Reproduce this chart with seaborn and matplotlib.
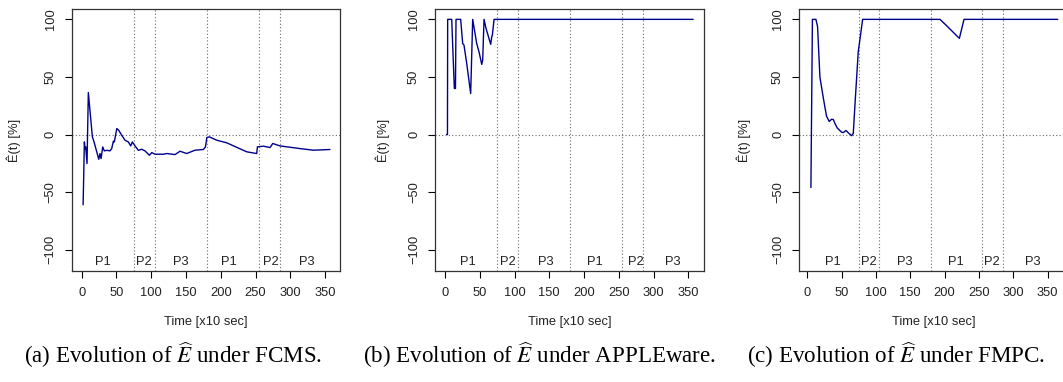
import numpy as np
import pandas as pd
import matplotlib
matplotlib.use("Agg")
import matplotlib.pyplot as plt
import seaborn as sns

# ---------------- data ----------------
x_fcms = [2, 3.8, 4.7, 5.7, 7.6, 9.5, 12.9, 15.3, 17.7, 21.6, 24.5, 26.3, 27.8, 30.2, 32.5, 36,
          40.7, 43.1, 45.5, 46.9, 50.4, 53.2, 57.5, 62.3, 67, 70.5, 72.8, 76.7, 81.4, 86.3, 91,
          97.3, 100.7, 105.5, 117.4, 122.3, 134.2, 141.4, 151, 163, 175, 178, 180, 183.6, 194,
          208.6, 237.3, 251.7, 252.7, 261.3, 270.9, 274.7, 285.3, 314, 333.2, 357]
y_fcms = [-61, -6.4, -12.8, -10.7, -25.2, 36.5, 13.9, -2, -6.4, -15, -21.5, -16.5, -20.9, -10.8,
          -14.2, -13.7, -14.2, -12.2, -5.8, -6.4, 5.2, 3.7, -0.6, -5, -6.4, -9.9, -6.4, -9.9,
          -13.7, -12.8, -14.2, -18, -15.7, -17.1, -17.1, -16.5, -17.4, -14.5, -16.5, -13.6, -13,
          -10.7, -2.6, -2, -4.9, -7.2, -15, -16.5, -10.7, -10.1, -11.3, -7.8, -9.9, -12.2, -13.6, -13]

x_apple = [2.4, 3.5, 3.8, 9.6, 13.4, 15.0, 15.8, 22.5, 25.4, 27.3, 31.2, 36.9, 39.8, 45.6, 48.9,
           52.8, 54.2, 56.1, 59, 65.7, 67.2, 68.1, 70.5, 357]
y_apple = [0, 0, 100, 100, 40, 40, 100, 100, 79, 77.6, 61.7, 35.6, 100, 79, 71.8, 60.9, 64.6,
           100, 92.2, 78.3, 84.9, 86.3, 100, 100]

x_fmpc = [5.3, 7.5, 12.6, 15, 18.4, 23.3, 28, 32, 35.4, 37.9, 40.3, 43.7, 50, 52.4, 56.3, 59.7,
          64.6, 67, 69.4, 74.2, 80.6, 193.2, 202, 221.4, 228.2, 364.6]
y_fmpc = [-46, 100, 100, 93.6, 50, 32, 16, 11.3, 13.3, 13, 9.6, 5.7, 2, 1.7, 3.5, 1.5, -1, 1,
          25.5, 71.8, 100, 100, 95, 83.5, 100, 100]

phase_bounds = [75, 105, 180, 255, 285]
phase_names = ["P1", "P2", "P3", "P1", "P2", "P3"]
phase_pos_fcms = [31, 90, 143, 211, 272, 324]
phase_pos_apple = [33, 91, 145, 215, 274, 328]
phase_pos_fmpc = [37, 90, 142, 216, 269, 329]

x_ticks = [0, 50, 100, 150, 200, 250, 300, 350]
y_ticks = [-100, -50, 0, 50, 100]

captions = [r"(a) Evolution of $\widehat{E}$ under FCMS.",
            r"(b) Evolution of $\widehat{E}$ under APPLEware.",
            r"(c) Evolution of $\widehat{E}$ under FMPC."]

# ---------------- style ----------------
sns.set_theme(style="white")
plt.rcParams["font.family"] = ["Liberation Sans", "DejaVu Sans"]
plt.rcParams["mathtext.fontset"] = "stix"
plt.rcParams["axes.unicode_minus"] = True

W, H = 1063, 382
fig = plt.figure(figsize=(W / 100, H / 100), dpi=100)

# pixel boxes: left, right, top, bottom
boxes = [(72, 340, 9, 271), (435.3, 704, 9, 271), (799.3, 1068.3, 9, 271)]
xlims = [(-14, 371.5), (-14, 372.6), (-11.6, 380)]
ylabel_x = [14, 383, 744]
cap_x = [173, 540, 896]

panels = [(x_fcms, y_fcms, phase_pos_fcms), (x_apple, y_apple, phase_pos_apple),
          (x_fmpc, y_fmpc, phase_pos_fmpc)]

line_color = "#00008B"
grid_color = "#6a6a6a"
txt = "#222222"

for i, ((xs, ys, ppos), (l, r, t, b)) in enumerate(zip(panels, boxes)):
    ax = fig.add_axes([l / W, (H - b) / H, (r - l) / W, (b - t) / H])
    df = pd.DataFrame({"t": xs, "e": ys})
    sns.lineplot(data=df, x="t", y="e", ax=ax, color=line_color, linewidth=1.0,
                 sort=False, estimator=None)
    ax.set_xlim(*xlims[i])
    ax.set_ylim(-118.5, 109)
    ax.axhline(0, color=grid_color, linestyle=(0, (1, 2)), linewidth=0.8, zorder=1)
    for xb in phase_bounds:
        ax.axvline(xb, color=grid_color, linestyle=(0, (1, 2)), linewidth=0.8, zorder=1)
    for name, px in zip(phase_names, ppos):
        ax.text(px, -110.5, name, ha="center", va="center", fontsize=9.3, color=txt)
    ax.set_xticks(x_ticks)
    ax.set_yticks(y_ticks)
    ax.set_xticklabels([str(v) for v in x_ticks])
    ax.set_yticklabels([str(v).replace("-", "\u2212") for v in y_ticks],
                       rotation=90, va="center")
    ax.tick_params(axis="both", direction="out", length=5, width=0.8, color="black",
                   labelsize=9.3, labelcolor=txt, bottom=True, left=True)
    ax.tick_params(axis="x", pad=6.5)
    ax.tick_params(axis="y", pad=6)
    for sp in ax.spines.values():
        sp.set_color("#333333")
        sp.set_linewidth(0.9)
    ax.set_xlabel("Time [x10 sec]", fontsize=9.3, color=txt)
    ax.xaxis.set_label_coords(0.5, -(322 - b) / (b - t))
    ax.xaxis.label.set_va("center")
    ax.set_ylabel("Ê(t) [%]", fontsize=9.3, color=txt)
    ax.yaxis.label.set_va("center")
    ax.yaxis.set_label_coords((ylabel_x[i] - l) / (r - l), 0.5)
    fig.text(cap_x[i] / W, 1 - 355 / H, captions[i], ha="center", va="center",
             fontsize=16.6, family=["Liberation Serif", "DejaVu Serif"], color="black")

fig.savefig("out.png", dpi=100)
